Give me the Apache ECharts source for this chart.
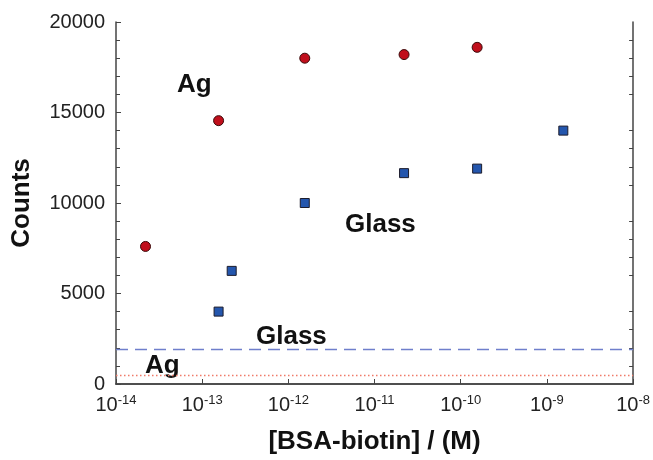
<!DOCTYPE html>
<html>
<head>
<meta charset="utf-8">
<script src="https://cdn.jsdelivr.net/npm/echarts@6/dist/echarts.min.js"></script>
<style>
  html, body { margin: 0; padding: 0; background: #fff; }
  #chart { width: 653px; height: 460px; }
</style>
</head>
<body>
<div id="chart"></div>
<script>
// BSA-biotin concentration (M) and counts
var agConc = [2.2e-14, 1.55e-13, 1.55e-12, 2.2e-11, 1.55e-10];
var agCounts = [7600, 14550, 18000, 18200, 18600];
var glassConc = [1.55e-13, 2.2e-13, 1.55e-12, 2.2e-11, 1.55e-10, 1.55e-9];
var glassCounts = [4000, 6250, 10000, 11650, 11900, 14000];
// background levels
var glassBackground = 1900;
var agBackground = 500;

var font = '"Liberation Sans", Arial, sans-serif';

function pairs(xs, ys) {
  var out = [];
  for (var i = 0; i < xs.length; i++) out.push([xs[i], ys[i]]);
  return out;
}

var chart = echarts.init(document.getElementById('chart'));

var option = {
  animation: false,
  backgroundColor: '#fff',
  grid: { left: 116, right: 17, top: 22, bottom: 75 },
  xAxis: [
    {
      type: 'log',
      logBase: 10,
      min: 1e-14,
      max: 1e-8,
      position: 'bottom',
      name: '[BSA-biotin] / (M)',
      nameLocation: 'middle',
      nameGap: 45,
      nameTextStyle: { fontFamily: font, fontWeight: 'bold', fontSize: 26, color: '#111' },
      axisLine: { lineStyle: { color: '#444', width: 1.5 } },
      axisTick: { inside: true, length: 5, lineStyle: { color: '#444' } },
      minorTick: { show: false },
      splitLine: { show: false },
      axisLabel: {
        margin: 10,
        formatter: function (v) {
          var e = Math.round(Math.log10(v));
          return '{b|10}{s|' + e + '}';
        },
        rich: {
          b: { fontFamily: font, fontSize: 20, color: '#222' },
          s: { fontFamily: font, fontSize: 13, color: '#222', padding: [0, 0, 9, 0] }
        }
      }
    },
    {
      type: 'log',
      logBase: 10,
      min: 1e-14,
      max: 1e-8,
      position: 'top',
      axisLine: { lineStyle: { color: '#444', width: 1.5 } },
      axisTick: { show: false },
      axisLabel: { show: false },
      splitLine: { show: false }
    }
  ],
  yAxis: [
    {
      type: 'value',
      min: 0,
      max: 20000,
      interval: 5000,
      name: 'Counts',
      nameLocation: 'middle',
      nameGap: 81,
      nameTextStyle: { fontFamily: font, fontWeight: 'bold', fontSize: 26, color: '#111' },
      axisLine: { show: true, lineStyle: { color: '#444', width: 1.5 } },
      axisTick: { show: true, inside: true, length: 5, lineStyle: { color: '#444' } },
      minorTick: { show: true, splitNumber: 5, length: 4, lineStyle: { color: '#444' } },
      splitLine: { show: false },
      axisLabel: {
        margin: 11,
        fontFamily: font,
        fontSize: 20,
        color: '#222',
        formatter: function (v) { return String(v); }
      }
    },
    {
      type: 'value',
      min: 0,
      max: 20000,
      interval: 5000,
      position: 'right',
      axisLine: { show: true, lineStyle: { color: '#444', width: 1.5 } },
      axisTick: { show: false, inside: true },
      minorTick: { show: true, splitNumber: 5, length: 4, lineStyle: { color: '#444' } },
      splitLine: { show: false },
      axisLabel: { show: false }
    }
  ],
  series: [
    {
      name: 'Glass',
      type: 'scatter',
      symbol: 'rect',
      symbolSize: 9,
      itemStyle: { color: '#2456ad', borderColor: '#1c1c2c', borderWidth: 1, opacity: 1 },
      data: pairs(glassConc, glassCounts),
      markLine: {
        silent: true,
        symbol: 'none',
        label: { show: false },
        lineStyle: { color: '#6f7fcc', type: [12, 7], width: 1.3 },
        data: [{ yAxis: glassBackground }]
      }
    },
    {
      name: 'Ag',
      type: 'scatter',
      symbol: 'circle',
      symbolSize: 10,
      itemStyle: { color: '#c00f1c', borderColor: '#3a0a0a', borderWidth: 1, opacity: 1 },
      data: pairs(agConc, agCounts),
      markLine: {
        silent: true,
        symbol: 'none',
        label: { show: false },
        lineStyle: { color: '#f07a68', type: [1.5, 2.5], width: 1.3 },
        data: [{ yAxis: agBackground }]
      }
    }
  ],
  graphic: [
    { type: 'text', left: 177, top: 72, style: { text: 'Ag', font: 'bold 26px ' + font, fill: '#111' } },
    { type: 'text', left: 345, top: 212, style: { text: 'Glass', font: 'bold 26px ' + font, fill: '#111' } },
    { type: 'text', left: 256, top: 324, style: { text: 'Glass', font: 'bold 26px ' + font, fill: '#111' } },
    { type: 'text', left: 145, top: 353, style: { text: 'Ag', font: 'bold 26px ' + font, fill: '#111' } }
  ]
};

chart.setOption(option);
</script>
</body>
</html>
